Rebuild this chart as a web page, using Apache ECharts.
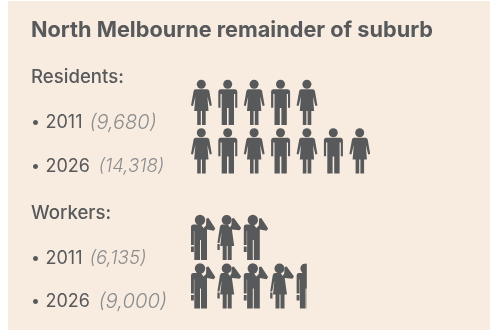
<!DOCTYPE html>
<html><head><meta charset="utf-8">
<style>html,body{margin:0;padding:0;background:#fff}#c{width:490px;height:330px}</style>
<script src="https://cdn.jsdelivr.net/npm/echarts@6/dist/echarts.min.js"></script>
</head><body><div id="c"></div>
<script>
var titleText = 'North Melbourne remainder of suburb';
var residentsHeading = 'Residents:';
var workersHeading = 'Workers:';
var years = ['2011', '2026'];
var residentsCounts = ['9,680', '14,318'];
var workersCounts = ['6,135', '9,000'];
var residentsIconValues = [10000, 14000];
var workersIconValues = [6000, 9000];
var PEOPLE_PER_ICON = 2000;

var ICONS = {
  woman: 'M7.5 9.3H19Q20.8 9.3 21.3 11L23.8 25.5L21.8 26L19.4 16.5L20.5 31H17.7V45H14V31H12.8V45H9.2V31H6.2L7.4 16.5L5 26L3 25.5L5.6 11Q6 9.3 7.5 9.3Z',
  man: 'M6 9.3H20.5Q22.9 9.3 22.9 11.8V27.7H20.8V14H19.6V45H14.2V28H12.6V45H7.3V14H6.1V27.7H3.9V11.8Q3.9 9.3 6 9.3Z',
  workerMan: 'M5 9.5H13L15.5 13L18 10.5L18.3 3.5L20.5 3L27.3 13.5L25.8 15.8L19 14.5V45H13V25H12V45H6.3V16H5.9V30H3V12Q3 9.5 5 9.5ZM3 31.5H5.9V37H3Z',
  workerWoman: 'M7.5 9.5H13.5L15.5 12.5L17 10L17.5 3.5L19.5 3L26.8 13L25.2 15.3L17.5 14.5L19.8 31H17.3V45H13.3V31H12.3V45H8.3V31H5.8L7.3 17L5 28H3L5.5 12Q6 9.5 7.5 9.5ZM3 29H5.3V35H3Z'
};
var HEADS = { woman: [13.3, 4.3, 4.5], man: [13.3, 4.3, 4.5], workerMan: [12, 5, 5.2], workerWoman: [12.3, 5, 5] };
var INK = '#58595b';

function iconRenderer(seq) {
  return function (params, api) {
    var value = api.value(0), row = api.value(1);
    var cell = api.size([PEOPLE_PER_ICON, 0])[0];
    var band = api.size([0, 1])[1];
    var children = [];
    var n = Math.ceil(value / PEOPLE_PER_ICON);
    for (var i = 0; i < n; i++) {
      var p = api.coord([i * PEOPLE_PER_ICON, row]);
      var frac = Math.min(1, value / PEOPLE_PER_ICON - i);
      var kind = seq[i % 2];
      var head = HEADS[kind];
      var kids = [
        { type: 'path', shape: { pathData: ICONS[kind] }, style: { fill: INK } },
        { type: 'circle', shape: { cx: head[0], cy: head[1], r: head[2] }, style: { fill: INK } }
      ];
      var g = { type: 'group', x: p[0], y: p[1] - band / 2 + 2, children: kids };
      if (frac < 1) {
        g.clipPath = { type: 'rect', shape: { x: 0, y: 0, width: frac * cell, height: 48 } };
      }
      children.push(g);
    }
    return { type: 'group', children: children };
  };
}

function rows(values) {
  return values.map(function (v, i) { return [v, years[i]]; });
}
var axisBase = { type: 'value', min: 0, max: 20000, show: false };
function cat(g) { return { type: 'category', data: years, inverse: true, show: false, gridIndex: g }; }

var FONT = 'Inter';
var graphics = [{ type: 'rect', z: -10, shape: { x: 8, y: 1, width: 482, height: 329 }, style: { fill: '#f8ece1' } }];
function txt(x, y, text, font, fill) {
  graphics.push({ type: 'text', x: x, y: y, style: { text: text, font: font, fill: fill, verticalAlign: 'middle' } });
}
function bullet(y, year, count, size) {
  txt(31, y, '•', '400 16px ' + FONT, INK);
  txt(45.5, y, year, '400 18px ' + FONT, INK);
  txt(year === '2011' ? 89.5 : 98.5, y, '(' + count + ')', 'italic 300 ' + size + 'px ' + FONT, '#8c8d8f');
}
txt(31, 30, titleText, '700 21.7px ' + FONT, INK);
txt(31, 77, residentsHeading, '500 18.6px ' + FONT, INK);
bullet(122.5, years[0], residentsCounts[0], 20);
bullet(166.5, years[1], residentsCounts[1], 18.5);
txt(31, 213, workersHeading, '500 18.6px ' + FONT, INK);
bullet(258.5, years[0], workersCounts[0], 18.7);
bullet(301.5, years[1], workersCounts[1], 20.3);

var chart = echarts.init(document.getElementById('c'), null, { renderer: 'canvas' });
chart.setOption({
  animation: false,
  backgroundColor: '#ffffff',
  graphic: graphics,
  grid: [
    { left: 188, top: 78, width: 264, height: 97 },
    { left: 188, top: 213, width: 264, height: 97 }
  ],
  xAxis: [Object.assign({ gridIndex: 0 }, axisBase), Object.assign({ gridIndex: 1 }, axisBase)],
  yAxis: [cat(0), cat(1)],
  series: [
    { type: 'custom', name: 'Residents', xAxisIndex: 0, yAxisIndex: 0, clip: false, silent: true,
      renderItem: iconRenderer(['woman', 'man']), encode: { x: 0, y: 1 }, data: rows(residentsIconValues) },
    { type: 'custom', name: 'Workers', xAxisIndex: 1, yAxisIndex: 1, clip: false, silent: true,
      renderItem: iconRenderer(['workerMan', 'workerWoman']), encode: { x: 0, y: 1 }, data: rows(workersIconValues) }
  ]
});
</script></body></html>
